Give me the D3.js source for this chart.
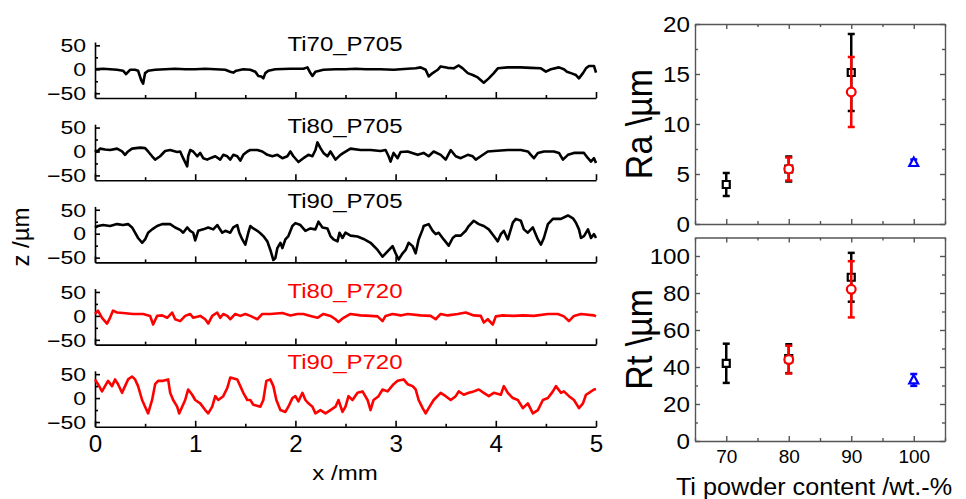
<!DOCTYPE html>
<html>
<head>
<meta charset="utf-8">
<script src="https://cdn.jsdelivr.net/npm/d3@7"></script>
<style>
  body { margin: 0; background: #fff; }
  svg { display: block; font-family: "Liberation Sans", Arial, sans-serif; }
</style>
</head>
<body>
<div id="canvas"></div>
<script>
// surface profiles, [x /mm, z /µm]
const profTi70P705 = [[0,0],[0.08,1],[0.15,0],[0.22,-1],[0.28,-3],[0.31,-10],[0.35,-1],[0.4,-1],[0.43,-3],[0.46,-22],[0.48,-30],[0.5,-8],[0.53,-3],[0.6,-1],[0.7,0],[0.8,1],[0.9,0],[1.0,0],[1.1,1],[1.2,0],[1.3,-1],[1.35,-5],[1.38,-7],[1.41,-3],[1.48,0],[1.55,-1],[1.6,-5],[1.63,-14],[1.66,-15],[1.68,-19],[1.7,-8],[1.73,-3],[1.8,0],[1.95,1],[2.08,1],[2.12,4],[2.15,-8],[2.17,-14],[2.2,-5],[2.28,-1],[2.4,0],[2.5,0],[2.6,1],[2.7,0],[2.85,0],[2.98,-1],[3.12,1],[3.2,2],[3.25,4],[3.3,-1],[3.33,-15],[3.37,-8],[3.42,-1],[3.45,6],[3.52,3],[3.58,2],[3.63,8],[3.67,2],[3.72,-8],[3.77,-12],[3.82,-17],[3.88,-28],[3.93,-19],[3.98,-8],[4.02,2],[4.12,4],[4.25,4],[4.35,3],[4.45,2],[4.5,-5],[4.55,0],[4.63,4],[4.68,0],[4.71,-5],[4.75,-8],[4.8,-12],[4.83,-19],[4.87,-8],[4.9,2],[4.93,7],[4.98,7],[5.0,-7]];
const profTi80P705 = [[0,3],[0.02,-1],[0.05,6],[0.1,4],[0.15,3],[0.22,6],[0.27,0],[0.3,-7],[0.33,0],[0.37,6],[0.45,8],[0.5,7],[0.53,0],[0.57,-10],[0.6,-17],[0.65,-10],[0.7,1],[0.75,3],[0.82,-1],[0.85,0],[0.88,-14],[0.92,-31],[0.93,-10],[0.95,3],[0.98,0],[1.02,-10],[1.05,-3],[1.08,-14],[1.12,-17],[1.15,-14],[1.2,-10],[1.25,-17],[1.28,-7],[1.32,-10],[1.35,-17],[1.38,-7],[1.42,-10],[1.45,-19],[1.48,-7],[1.52,0],[1.55,3],[1.62,3],[1.67,0],[1.72,-7],[1.77,-10],[1.82,-7],[1.87,-14],[1.92,-10],[1.95,0],[1.98,-10],[2.03,-22],[2.08,-14],[2.13,-7],[2.17,-10],[2.2,3],[2.22,19],[2.25,7],[2.28,-3],[2.32,-10],[2.35,0],[2.4,-17],[2.45,-7],[2.48,-3],[2.55,6],[2.65,3],[2.75,3],[2.85,1],[2.9,3],[2.93,-10],[2.95,-21],[2.98,-3],[3.02,-14],[3.05,-1],[3.12,0],[3.22,-7],[3.28,-3],[3.33,-10],[3.38,0],[3.45,-7],[3.5,-17],[3.55,3],[3.6,-10],[3.65,-14],[3.72,-7],[3.77,-10],[3.8,-17],[3.85,-10],[3.92,0],[3.98,1],[4.12,3],[4.25,3],[4.32,0],[4.35,-7],[4.38,-14],[4.42,-3],[4.48,0],[4.58,0],[4.63,-3],[4.67,-17],[4.72,-7],[4.78,-3],[4.88,-3],[4.92,-14],[4.95,-21],[4.98,-14],[5.0,-24]];
const profTi90P705 = [[0,13],[0.03,16],[0.08,18],[0.15,16],[0.22,20],[0.28,18],[0.33,20],[0.37,13],[0.4,2],[0.43,-9],[0.47,-19],[0.5,-12],[0.53,2],[0.57,9],[0.62,16],[0.67,20],[0.75,20],[0.8,13],[0.85,8],[0.88,2],[0.92,13],[0.95,6],[0.98,2],[1.0,-14],[1.03,6],[1.08,9],[1.13,13],[1.18,9],[1.22,18],[1.27,2],[1.3,6],[1.35,2],[1.38,13],[1.42,18],[1.44,2],[1.47,-12],[1.5,-23],[1.53,2],[1.55,16],[1.58,11],[1.62,6],[1.65,1],[1.68,-5],[1.72,-16],[1.75,-34],[1.78,-55],[1.8,-51],[1.82,-30],[1.85,-19],[1.87,-30],[1.9,-12],[1.93,-5],[1.97,16],[2.0,22],[2.05,18],[2.1,6],[2.15,11],[2.2,9],[2.23,25],[2.27,13],[2.32,11],[2.35,-5],[2.38,-12],[2.42,-16],[2.44,2],[2.47,-9],[2.5,2],[2.55,-4],[2.62,-6],[2.68,-11],[2.75,-19],[2.82,-34],[2.87,-48],[2.92,-37],[2.97,-26],[3.0,-41],[3.03,-54],[3.07,-41],[3.1,-34],[3.13,-19],[3.17,-26],[3.2,-41],[3.23,-12],[3.27,9],[3.28,16],[3.33,20],[3.37,6],[3.4,-1],[3.43,2],[3.48,-12],[3.53,-25],[3.57,-9],[3.6,-4],[3.65,-4],[3.7,6],[3.73,16],[3.78,27],[3.83,20],[3.88,16],[3.93,9],[3.98,-5],[4.02,-16],[4.05,-1],[4.08,6],[4.12,-12],[4.17,23],[4.2,31],[4.25,27],[4.28,9],[4.32,2],[4.37,13],[4.42,-12],[4.45,-23],[4.48,-9],[4.52,20],[4.57,31],[4.65,31],[4.72,38],[4.77,32],[4.8,23],[4.83,9],[4.85,-9],[4.88,-5],[4.92,9],[4.95,-9],[4.98,-1],[5.0,-9]];
const profTi80P720 = [[0,4],[0.03,11],[0.07,-4],[0.12,-16],[0.15,-4],[0.18,11],[0.22,7],[0.28,6],[0.38,4],[0.48,4],[0.55,0],[0.58,-18],[0.62,0],[0.67,1],[0.72,-4],[0.77,7],[0.8,-7],[0.85,-11],[0.9,0],[0.95,4],[0.98,-4],[1.05,0],[1.1,-7],[1.13,-16],[1.17,0],[1.22,7],[1.25,-4],[1.28,4],[1.32,0],[1.35,-7],[1.4,4],[1.45,0],[1.5,4],[1.55,0],[1.62,-7],[1.67,4],[1.75,4],[1.87,6],[1.95,1],[2.02,4],[2.08,4],[2.15,0],[2.22,-4],[2.28,4],[2.35,0],[2.4,-7],[2.43,-13],[2.48,-4],[2.55,4],[2.65,1],[2.75,0],[2.82,-1],[2.87,-11],[2.9,0],[2.97,4],[3.05,1],[3.12,4],[3.25,1],[3.35,0],[3.4,-7],[3.45,4],[3.52,1],[3.62,4],[3.7,7],[3.78,1],[3.85,0],[3.88,-14],[3.92,-7],[3.97,-18],[4.0,-1],[4.07,1],[4.18,0],[4.27,1],[4.38,0],[4.52,4],[4.62,4],[4.68,-1],[4.73,-11],[4.78,0],[4.85,4],[4.98,1],[5.0,-1]];
const profTi90P720 = [[0,39],[0.03,29],[0.07,14],[0.1,25],[0.13,36],[0.17,25],[0.2,39],[0.23,29],[0.27,11],[0.3,25],[0.33,39],[0.37,45],[0.4,39],[0.43,25],[0.47,-4],[0.5,-18],[0.53,-32],[0.57,-4],[0.6,29],[0.63,36],[0.68,36],[0.73,39],[0.75,11],[0.78,-4],[0.82,-18],[0.84,-32],[0.87,-18],[0.9,-4],[0.93,18],[0.97,7],[1.0,-4],[1.05,-11],[1.1,-25],[1.13,-32],[1.17,-18],[1.2,4],[1.23,-4],[1.28,4],[1.32,21],[1.35,43],[1.42,39],[1.45,25],[1.48,11],[1.52,-4],[1.55,-4],[1.58,-14],[1.65,-18],[1.68,-4],[1.71,36],[1.75,39],[1.78,25],[1.81,-4],[1.85,-25],[1.9,-29],[1.93,-18],[1.97,0],[2.0,4],[2.03,-7],[2.07,11],[2.1,-4],[2.13,-11],[2.17,-18],[2.2,-32],[2.25,-25],[2.3,-32],[2.35,-25],[2.4,-18],[2.43,-4],[2.47,-29],[2.5,-18],[2.53,4],[2.57,-4],[2.62,11],[2.67,14],[2.72,-4],[2.75,-25],[2.78,-4],[2.83,4],[2.87,18],[2.92,14],[2.98,29],[3.02,36],[3.08,39],[3.12,29],[3.17,25],[3.2,18],[3.23,-4],[3.27,-21],[3.3,-32],[3.33,-21],[3.38,-4],[3.45,11],[3.5,4],[3.55,-4],[3.6,4],[3.63,14],[3.68,7],[3.73,11],[3.78,14],[3.83,18],[3.88,11],[3.93,4],[3.98,11],[4.05,7],[4.08,25],[4.12,11],[4.17,0],[4.22,-4],[4.27,-21],[4.32,-11],[4.37,-32],[4.42,-25],[4.47,-4],[4.52,0],[4.57,14],[4.6,25],[4.65,11],[4.68,14],[4.73,4],[4.78,-4],[4.83,-21],[4.87,-11],[4.9,7],[4.93,11],[4.98,18],[5.0,19]];

const profileNames = ["Ti70_P705", "Ti80_P705", "Ti90_P705", "Ti80_P720", "Ti90_P720"];
const profileSeries = ["P705", "P705", "P705", "P720", "P720"];
const profiles = [profTi70P705, profTi80P705, profTi90P705, profTi80P720, profTi90P720];
const xTicksMm = [0, 1, 2, 3, 4, 5];
const zTicks = [-50, 0, 50];

// roughness vs Ti powder content
const tiP705 = [70, 80, 90];
const tiP720 = [80, 90];
const tiPure = [100];
const raP705 = [3.95, 5.5, 15.15];
const raP705Err = [1.15, 1.25, 3.85];
const raP720 = [5.5, 13.2];
const raP720Err = [1.15, 3.5];
const raPure = [6.15];
const raPureErr = [0.3];
const rtP705 = [42, 44.5, 88.5];
const rtP705Err = [10.6, 7.8, 13.2];
const rtP720 = [44, 82];
const rtP720Err = [7.5, 15.2];
const rtPure = [33];
const rtPureErr = [3.2];
const contentTicks = [70, 80, 90, 100];

const colors = { P705: "#000", P720: "#ff0000", pure: "#0000ff" };
const W = 966, H = 499;

const svg = d3.select("#canvas").append("svg").attr("width", W).attr("height", H);
svg.append("rect").attr("width", W).attr("height", H).attr("fill", "#fff");

// ---------- left: profiles ----------
const x = d3.scaleLinear().domain([0, 5]).range([95, 596]);
const panelH = 56, step = 82.2, firstBottom = 98;

profiles.forEach((prof, i) => {
  const bottom = firstBottom + i * step;
  const y = d3.scaleLinear().domain([-60, 57]).range([bottom, bottom - panelH]);
  const g = svg.append("g");
  const col = colors[profileSeries[i]];

  // axes
  const yAx = g.append("g").attr("transform", `translate(${x(0)},0)`)
    .call(d3.axisLeft(y).tickValues(zTicks).tickSizeInner(-5).tickSizeOuter(0).tickPadding(9));
  g.append("g").attr("transform", `translate(${x(0)},0)`)
    .call(d3.axisLeft(y).tickValues([-25, 25]).tickSizeInner(-3).tickSizeOuter(0).tickFormat(""))
    .select(".domain").remove();
  yAx.selectAll("text").attr("font-size", 18).attr("x", -9 / 1.28).attr("dy", "0.35em")
    .attr("transform", "scale(1.28,1)").attr("fill", "#000").attr("font-family", null);

  const xAx = g.append("g").attr("transform", `translate(0,${bottom})`)
    .call(d3.axisBottom(x).tickValues(xTicksMm).tickSizeInner(-6).tickSizeOuter(0)
      .tickFormat(i === profiles.length - 1 ? d3.format("d") : ""));
  g.append("g").attr("transform", `translate(0,${bottom})`)
    .call(d3.axisBottom(x).tickValues([0.5, 1.5, 2.5, 3.5, 4.5]).tickSizeInner(-3).tickSizeOuter(0).tickFormat(""))
    .select(".domain").remove();
  xAx.selectAll("text").attr("font-size", 23).attr("y", 25).attr("dy", 0)
    .attr("transform", "scale(1.05,1)").attr("fill", "#000").attr("font-family", null);
  g.selectAll(".domain, .tick line").attr("stroke", "#000").attr("stroke-width", 1.6);

  // trace
  g.append("path").datum(prof)
    .attr("fill", "none").attr("stroke", col).attr("stroke-width", 2.6)
    .attr("stroke-linejoin", "round")
    .attr("d", d3.line().x(d => x(d[0])).y(d => y(d[1])));

  // title
  const level = Math.max(38, d3.max(prof, d => d[1]) + 16);
  g.append("text").attr("transform", `translate(345,${y(level)}) scale(1.23,1)`)
    .attr("text-anchor", "middle").attr("font-size", 19.5).attr("fill", col)
    .text(profileNames[i]);
});

svg.append("text").attr("transform", "translate(345,480) scale(1.2,1)")
  .attr("text-anchor", "middle").attr("font-size", 20).text("x /mm");
svg.append("text").attr("transform", "translate(29,237) rotate(-90)")
  .attr("text-anchor", "middle").attr("font-size", 24).text("z /µm");

// ---------- right: Ra / Rt ----------
const xc = d3.scaleLinear().domain([65, 105]).range([695, 945]);

function panel(top, bottom, maxY, majorStep, title, labelX, sets) {
  const y = d3.scaleLinear().domain([0, maxY]).range([bottom, top]);
  const g = svg.append("g");
  const major = d3.range(0, maxY + 0.01, majorStep);
  const minor = d3.range(majorStep / 2, maxY, majorStep);
  const xMinor = [65, 75, 85, 95, 105];

  const sides = [
    [d3.axisLeft, `translate(${xc.range()[0]},0)`, y, major, minor],
    [d3.axisRight, `translate(${xc.range()[1]},0)`, y, major, minor],
    [d3.axisBottom, `translate(0,${bottom})`, xc, contentTicks, xMinor],
    [d3.axisTop, `translate(0,${top})`, xc, contentTicks, xMinor]
  ];
  sides.forEach(([ax, tr, sc, mj, mn], k) => {
    const a = g.append("g").attr("transform", tr)
      .call(ax(sc).tickValues(mj).tickSizeInner(-5).tickSizeOuter(0).tickPadding(5).tickFormat(""));
    g.append("g").attr("transform", tr)
      .call(ax(sc).tickValues(mn).tickSizeInner(-3).tickSizeOuter(0).tickFormat(""))
      .select(".domain").remove();
    if (k === 0) {
      a.selectAll(".tick").append("text").attr("x", -5 / 1.1).attr("dy", "0.35em")
        .attr("text-anchor", "end").attr("transform", "scale(1.1,1)")
        .attr("font-size", 22).attr("fill", "#000").text(d => d);
    }
    if (k === 2 && labelX) {
      a.selectAll(".tick").append("text").attr("y", 22).attr("text-anchor", "middle")
        .attr("font-size", 19).attr("fill", "#000").text(d => d);
    }
  });
  g.selectAll(".domain, .tick line").attr("stroke", "#555").attr("stroke-width", 1.4);

  g.append("text").attr("transform", `translate(652,${(top + bottom) / 2}) rotate(-90) scale(1,1.1)`)
    .attr("text-anchor", "middle").attr("font-size", 34).text(title);

  sets.forEach(s => {
    const c = s.color;
    s.xs.forEach((xv, j) => {
      const v = s.vals[j], e = s.errs[j];
      const cx = xc(xv);
      g.append("line").attr("x1", cx).attr("x2", cx).attr("y1", y(v - e)).attr("y2", y(v + e))
        .attr("stroke", c).attr("stroke-width", 2.5);
      [v - e, v + e].forEach(w => g.append("line").attr("x1", cx - 3.5).attr("x2", cx + 3.5)
        .attr("y1", y(w)).attr("y2", y(w)).attr("stroke", c).attr("stroke-width", 2.5));
      const sym = g.append("path").attr("transform", `translate(${cx},${y(v)})`)
        .attr("fill", "#fff").attr("stroke", c).attr("stroke-width", 2.2);
      if (s.shape === "square") sym.attr("d", "M-3.5,-3.5H3.5V3.5H-3.5Z");
      if (s.shape === "circle") sym.attr("d", d3.symbol(d3.symbolCircle, 60)());
      if (s.shape === "triangle") sym.attr("d", "M0,-5L4.5,3.5H-4.5Z");
    });
  });
}

panel(24, 224, 20, 5, "Ra \\µm", false, [
  { xs: tiP705, vals: raP705, errs: raP705Err, color: colors.P705, shape: "square" },
  { xs: tiP720, vals: raP720, errs: raP720Err, color: colors.P720, shape: "circle" },
  { xs: tiPure, vals: raPure, errs: raPureErr, color: colors.pure, shape: "triangle" }
]);
panel(237.5, 441, 110, 20, "Rt \\µm", true, [
  { xs: tiP705, vals: rtP705, errs: rtP705Err, color: colors.P705, shape: "square" },
  { xs: tiP720, vals: rtP720, errs: rtP720Err, color: colors.P720, shape: "circle" },
  { xs: tiPure, vals: rtPure, errs: rtPureErr, color: colors.pure, shape: "triangle" }
]);

svg.append("text").attr("transform", "translate(814,495) scale(1.05,1)")
  .attr("text-anchor", "middle").attr("font-size", 24).text("Ti powder content /wt.-%");
</script>
</body>
</html>
